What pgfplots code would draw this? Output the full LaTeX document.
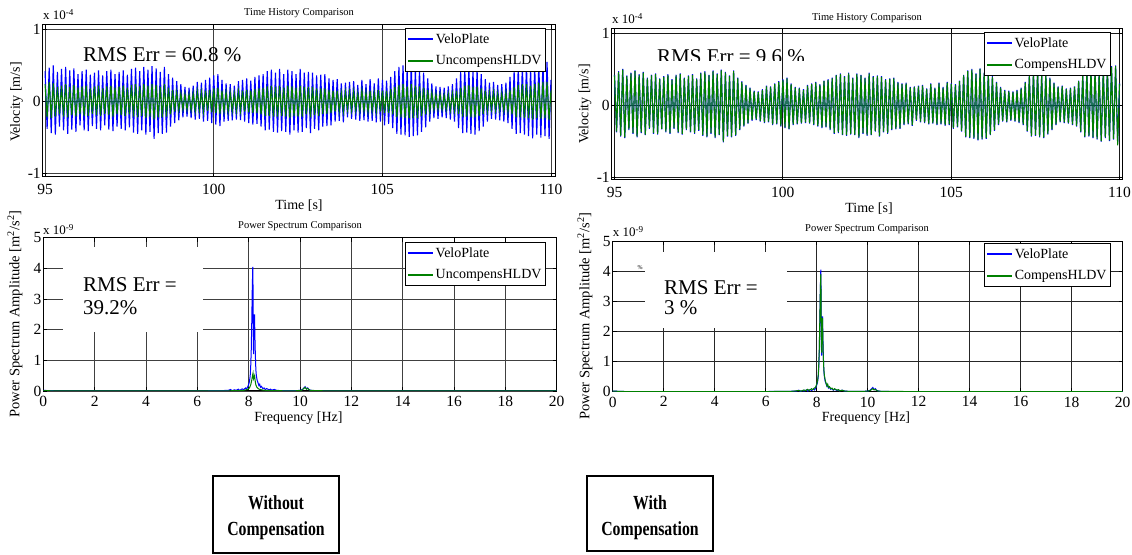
\documentclass[border=0pt]{standalone}
\usepackage{fontspec}
\setmainfont{Liberation Serif}
\usepackage{graphicx}
\usepackage{pgfplots}
\usepackage{pgfplotstable}
\pgfplotsset{compat=1.18}

\definecolor{mblue}{rgb}{0,0,1}
\definecolor{mgreen}{rgb}{0,0.5,0}

% velocity peaks/troughs, units of 1e-4 m/s
% v = VeloPlate, u = UncompensHLDV, c = CompensHLDV
\pgfplotstableread{
t v u c
95.000 0.42 0.24 0.41
95.061 -0.38 -0.22 -0.37
95.122 0.47 0.27 0.46
95.183 -0.44 -0.23 -0.43
95.244 0.50 0.25 0.49
95.305 -0.46 -0.21 -0.45
95.366 0.41 0.20 0.40
95.427 -0.35 -0.18 -0.34
95.488 0.45 0.22 0.44
95.549 -0.40 -0.21 -0.39
95.610 0.48 0.24 0.47
95.671 -0.45 -0.22 -0.44
95.732 0.43 0.20 0.42
95.793 -0.39 -0.19 -0.38
95.854 0.46 0.23 0.45
95.915 -0.42 -0.21 -0.41
95.976 0.38 0.19 0.37
96.037 -0.33 -0.17 -0.32
96.098 0.42 0.21 0.41
96.159 -0.40 -0.20 -0.39
96.220 0.44 0.22 0.43
96.281 -0.41 -0.20 -0.40
96.342 0.37 0.18 0.36
96.403 -0.34 -0.17 -0.33
96.464 0.40 0.21 0.39
96.525 -0.38 -0.19 -0.37
96.586 0.43 0.22 0.42
96.647 -0.40 -0.20 -0.39
96.708 0.36 0.18 0.35
96.769 -0.33 -0.17 -0.32
96.830 0.42 0.21 0.41
96.891 -0.39 -0.19 -0.38
96.952 0.44 0.22 0.43
97.013 -0.41 -0.21 -0.40
97.074 0.38 0.19 0.37
97.135 -0.35 -0.18 -0.34
97.196 0.41 0.21 0.40
97.257 -0.38 -0.19 -0.37
97.318 0.43 0.22 0.42
97.379 -0.40 -0.20 -0.39
97.440 0.37 0.19 0.36
97.501 -0.36 -0.18 -0.35
97.562 0.45 0.23 0.44
97.623 -0.43 -0.21 -0.42
97.684 0.47 0.24 0.46
97.745 -0.45 -0.22 -0.44
97.806 0.42 0.21 0.41
97.867 -0.40 -0.20 -0.39
97.928 0.48 0.24 0.47
97.989 -0.46 -0.23 -0.45
98.050 0.44 0.22 0.43
98.111 -0.42 -0.21 -0.41
98.172 0.49 0.24 0.48
98.233 -0.52 -0.25 -0.51
98.294 0.46 0.23 0.45
98.355 -0.44 -0.22 -0.43
98.416 0.41 0.20 0.40
98.477 -0.45 -0.22 -0.44
98.538 0.48 0.24 0.47
98.599 -0.43 -0.21 -0.42
98.660 0.38 0.19 0.37
98.721 -0.35 -0.18 -0.34
98.782 0.33 0.16 0.32
98.843 -0.30 -0.14 -0.29
98.904 0.28 0.13 0.27
98.965 -0.26 -0.12 -0.25
99.026 0.24 0.11 0.23
99.087 -0.22 -0.11 -0.21
99.148 0.20 0.10 0.19
99.209 -0.21 -0.11 -0.20
99.270 0.19 0.10 0.18
99.331 -0.23 -0.12 -0.22
99.392 0.22 0.11 0.21
99.453 -0.25 -0.13 -0.24
99.514 0.27 0.14 0.26
99.575 -0.24 -0.12 -0.23
99.636 0.26 0.13 0.25
99.697 -0.28 -0.14 -0.27
99.758 0.30 0.15 0.29
99.819 -0.27 -0.13 -0.26
99.880 0.33 0.16 0.32
99.941 -0.30 -0.15 -0.29
100.002 0.36 0.18 0.35
100.063 -0.32 -0.16 -0.31
100.124 0.38 0.19 0.37
100.185 -0.34 -0.17 -0.33
100.246 0.30 0.15 0.29
100.307 -0.28 -0.14 -0.27
100.368 0.25 0.13 0.24
100.429 -0.27 -0.14 -0.26
100.490 0.24 0.12 0.23
100.551 -0.26 -0.13 -0.25
100.612 0.22 0.11 0.21
100.673 -0.25 -0.13 -0.24
100.734 0.28 0.14 0.27
100.795 -0.26 -0.13 -0.25
100.856 0.30 0.15 0.29
100.917 -0.28 -0.14 -0.27
100.978 0.32 0.16 0.31
101.039 -0.30 -0.15 -0.29
101.100 0.29 0.15 0.28
101.161 -0.32 -0.16 -0.31
101.222 0.34 0.17 0.33
101.283 -0.31 -0.16 -0.30
101.344 0.36 0.18 0.35
101.405 -0.35 -0.18 -0.34
101.466 0.38 0.19 0.37
101.527 -0.40 -0.20 -0.39
101.588 0.42 0.21 0.41
101.649 -0.39 -0.20 -0.38
101.710 0.44 0.22 0.43
101.771 -0.42 -0.21 -0.41
101.832 0.40 0.20 0.39
101.893 -0.43 -0.21 -0.42
101.954 0.45 0.22 0.44
102.015 -0.41 -0.20 -0.40
102.076 0.38 0.19 0.37
102.137 -0.42 -0.21 -0.41
102.198 0.44 0.22 0.43
102.259 -0.46 -0.23 -0.45
102.320 0.42 0.21 0.41
102.381 -0.40 -0.20 -0.39
102.442 0.38 0.19 0.37
102.503 -0.43 -0.21 -0.42
102.564 0.45 0.22 0.44
102.625 -0.42 -0.21 -0.41
102.686 0.40 0.20 0.39
102.747 -0.37 -0.18 -0.36
102.808 0.41 0.20 0.40
102.869 -0.44 -0.22 -0.43
102.930 0.40 0.20 0.39
102.991 -0.38 -0.19 -0.37
103.052 0.36 0.18 0.35
103.113 -0.40 -0.20 -0.39
103.174 0.37 0.18 0.36
103.235 -0.35 -0.17 -0.34
103.296 0.38 0.18 0.37
103.357 -0.34 -0.17 -0.33
103.418 0.32 0.16 0.31
103.479 -0.33 -0.16 -0.32
103.540 0.30 0.15 0.29
103.601 -0.28 -0.14 -0.27
103.662 0.31 0.15 0.30
103.723 -0.27 -0.13 -0.26
103.784 0.25 0.12 0.24
103.845 -0.29 -0.14 -0.28
103.906 0.26 0.13 0.25
103.967 -0.22 -0.11 -0.21
104.028 0.27 0.13 0.26
104.089 -0.24 -0.12 -0.23
104.150 0.28 0.14 0.27
104.211 -0.25 -0.12 -0.24
104.272 0.23 0.11 0.22
104.333 -0.27 -0.13 -0.26
104.394 0.30 0.15 0.29
104.455 -0.26 -0.13 -0.25
104.516 0.24 0.12 0.23
104.577 -0.28 -0.14 -0.27
104.638 0.31 0.15 0.30
104.699 -0.27 -0.13 -0.26
104.760 0.25 0.12 0.24
104.821 -0.29 -0.14 -0.28
104.882 0.32 0.16 0.31
104.943 -0.28 -0.14 -0.27
105.004 0.30 0.15 0.29
105.065 -0.33 -0.16 -0.32
105.126 0.29 0.15 0.28
105.187 -0.31 -0.16 -0.30
105.248 0.34 0.17 0.33
105.309 -0.37 -0.18 -0.36
105.370 0.42 0.20 0.41
105.431 -0.45 -0.22 -0.44
105.492 0.48 0.23 0.47
105.553 -0.46 -0.22 -0.45
105.614 0.50 0.24 0.49
105.675 -0.47 -0.23 -0.46
105.736 0.44 0.21 0.43
105.797 -0.49 -0.23 -0.48
105.858 0.51 0.24 0.50
105.919 -0.48 -0.23 -0.47
105.980 0.45 0.22 0.44
106.041 -0.47 -0.23 -0.46
106.102 0.44 0.21 0.43
106.163 -0.42 -0.20 -0.41
106.224 0.40 0.19 0.39
106.285 -0.36 -0.18 -0.35
106.346 0.32 0.16 0.31
106.407 -0.28 -0.14 -0.27
106.468 0.25 0.12 0.24
106.529 -0.23 -0.11 -0.22
106.590 0.21 0.10 0.20
106.651 -0.24 -0.11 -0.23
106.712 0.20 0.10 0.19
106.773 -0.22 -0.11 -0.21
106.834 0.19 0.09 0.18
106.895 -0.23 -0.11 -0.22
106.956 0.21 0.10 0.20
107.017 -0.25 -0.12 -0.24
107.078 0.24 0.11 0.23
107.139 -0.28 -0.13 -0.27
107.200 0.32 0.15 0.31
107.261 -0.37 -0.17 -0.36
107.322 0.41 0.19 0.40
107.383 -0.44 -0.21 -0.43
107.444 0.46 0.22 0.45
107.505 -0.43 -0.21 -0.42
107.566 0.47 0.23 0.46
107.627 -0.45 -0.22 -0.44
107.688 0.42 0.20 0.41
107.749 -0.46 -0.22 -0.45
107.810 0.44 0.21 0.43
107.871 -0.41 -0.20 -0.40
107.932 0.38 0.18 0.37
107.993 -0.35 -0.17 -0.34
108.054 0.31 0.15 0.30
108.115 -0.28 -0.13 -0.27
108.176 0.26 0.12 0.25
108.237 -0.24 -0.11 -0.23
108.298 0.27 0.13 0.26
108.359 -0.25 -0.12 -0.24
108.420 0.23 0.11 0.22
108.481 -0.26 -0.12 -0.25
108.542 0.24 0.11 0.23
108.603 -0.28 -0.13 -0.27
108.664 0.26 0.12 0.25
108.725 -0.30 -0.14 -0.29
108.786 0.34 0.16 0.33
108.847 -0.38 -0.18 -0.37
108.908 0.42 0.20 0.41
108.969 -0.45 -0.22 -0.44
109.030 0.47 0.23 0.46
109.091 -0.44 -0.22 -0.43
109.152 0.49 0.24 0.48
109.213 -0.46 -0.23 -0.45
109.274 0.50 0.24 0.49
109.335 -0.48 -0.23 -0.47
109.396 0.45 0.22 0.44
109.457 -0.51 -0.25 -0.50
109.518 0.49 0.24 0.48
109.579 -0.46 -0.23 -0.45
109.640 0.52 0.26 0.51
109.701 -0.50 -0.24 -0.49
109.762 0.54 0.27 0.53
109.823 -0.48 -0.23 -0.47
109.884 0.55 0.27 0.54
109.945 -0.52 -0.26 -0.56
110.000 0.30 0.15 0.29
}\timedata

\pgfplotsset{
  matlab/.style={
    scale only axis, anchor=south west,
    axis line style={black, line width=1pt},
    tick align=inside, major tick length=4pt,
    tick style={black, line width=0.8pt},
    grid=major, grid style={black!75, line width=0.9pt},
    ticklabel style={font=\fontsize{15.5}{17}\selectfont, inner sep=0pt},
    yticklabel style={xshift=-1.8pt},
    /pgf/number format/assume math mode=true,
    legend cell align=left,
    legend style={draw=black, line width=0.9pt, fill=white, anchor=north east,
      font=\fontsize{14}{15}\selectfont, inner xsep=2pt, inner ysep=3pt,
      row sep=7pt},
    legend image code/.code={\draw[#1, line width=1.5pt] (0pt,0pt) -- (25pt,0pt);},
  },
  timeax/.style={matlab, xtick={95,100,105,110}, ytick={-1,0,1},
    xticklabels={95,100,105,110}, yticklabels={-1,0,1},
    xticklabel style={yshift=-6.8pt}},
  specax/.style={matlab, xmin=0, xmax=20, ymin=0, ymax=5,
    xtick={0,2,...,20}, ytick={0,1,...,5},
    xticklabels={0,2,4,6,8,10,12,14,16,18,20}, yticklabels={0,1,2,3,4,5},
    xticklabel style={yshift=-4.8pt}},
}

\newcommand{\fsz}[1]{\fontsize{#1}{#1}\selectfont}

\begin{document}
\begin{tikzpicture}
\path[use as bounding box] (0,0) rectangle (1132pt,554pt);

% ---- time history, without compensation
\begin{axis}[timeax, at={(42.7pt,377pt)}, width=512.3pt, height=152pt,
  xmin=94.93, xmax=110.12, ymin=-1.047, ymax=1.06,
  legend style={at={(0.9824,0.98)}}]
\addplot[draw=mblue, line width=1.1pt] table[x=t, y=v] {\timedata};
\addlegendentry{VeloPlate}
\addplot[draw=mgreen, line width=1.1pt] table[x=t, y=u] {\timedata};
\addlegendentry{UncompensHLDV}
\end{axis}

% ---- time history, with compensation
\begin{axis}[timeax, at={(611.7pt,374pt)}, width=511pt, height=151pt,
  xmin=94.917, xmax=110.095, ymin=-1.042, ymax=1.056,
  grid style={black!90, line width=0.9pt},
  legend style={at={(0.977,0.98)}}]
\addplot[draw=mblue, line width=1.1pt] table[x=t, y=v] {\timedata};
\addlegendentry{VeloPlate}
\addplot[draw=mgreen, line width=1.1pt] table[x=t, y=c] {\timedata};
\addlegendentry{CompensHLDV}
\end{axis}

% ---- power spectrum, without compensation
\begin{axis}[specax, at={(43.3pt,163pt)}, width=513.4pt, height=153.3pt,
  legend style={at={(0.979,0.972)}}]
\addplot[draw=mblue, line width=1pt] coordinates {
(0,0.02)(0.5,0.005)(1,0.004)(2,0.003)(3,0.003)(4,0.004)(5,0.005)(6,0.006)
(6.8,0.01)(7.2,0.02)(7.3,0.05)(7.35,0.01)(7.45,0.04)(7.5,0.02)(7.6,0.06)
(7.65,0.02)(7.75,0.07)(7.8,0.04)(7.88,0.1)(7.92,0.06)(7.97,0.15)(8.0,0.22)
(8.03,0.3)(8.06,0.5)(8.08,0.8)(8.1,1.3)(8.12,2.2)(8.14,3.3)(8.16,4.05)
(8.17,3.4)(8.18,2.0)(8.19,1.2)(8.2,1.8)(8.21,2.5)(8.22,2.4)(8.23,2.5)
(8.24,1.9)(8.26,1.2)(8.28,0.7)(8.3,0.5)(8.33,0.35)(8.36,0.28)(8.4,0.18)
(8.43,0.22)(8.46,0.12)(8.5,0.15)(8.55,0.08)(8.6,0.1)(8.65,0.05)(8.7,0.08)
(8.8,0.04)(8.85,0.06)(8.9,0.03)(9.0,0.05)(9.1,0.02)(9.3,0.01)(9.8,0.01)
(10.0,0.02)(10.1,0.05)(10.15,0.1)(10.2,0.14)(10.25,0.07)(10.3,0.1)
(10.35,0.04)(10.5,0.01)(11,0.005)(12,0.004)(14,0.003)(16,0.003)(18,0.002)(20,0.002)
};
\addlegendentry{VeloPlate}
\addplot[draw=mgreen, line width=1pt] coordinates {
(0,0.01)(1,0.003)(2,0.002)(4,0.002)(6,0.003)(7,0.005)(7.5,0.01)(7.8,0.02)
(7.95,0.05)(8.03,0.1)(8.08,0.2)(8.12,0.35)(8.15,0.5)(8.17,0.58)(8.19,0.4)
(8.21,0.45)(8.23,0.5)(8.25,0.35)(8.28,0.2)(8.32,0.12)(8.38,0.07)(8.45,0.05)
(8.55,0.03)(8.7,0.02)(9,0.01)(9.8,0.005)(10.05,0.02)(10.15,0.08)(10.2,0.12)
(10.25,0.06)(10.3,0.08)(10.4,0.02)(11,0.005)(14,0.002)(20,0.002)
};
\addlegendentry{UncompensHLDV}
\end{axis}

% ---- power spectrum, with compensation
\begin{axis}[specax, at={(612.7pt,162.3pt)}, width=510pt, height=150.7pt,
  grid style={black!85, line width=0.9pt},
  legend style={at={(0.977,0.987)}}]
\addplot[draw=mblue, line width=1pt] coordinates {
(0,0.02)(0.5,0.005)(1,0.004)(2,0.003)(3,0.003)(4,0.004)(5,0.005)(6,0.006)
(6.8,0.01)(7.2,0.02)(7.3,0.05)(7.35,0.01)(7.45,0.04)(7.5,0.02)(7.6,0.06)
(7.65,0.02)(7.75,0.07)(7.8,0.04)(7.88,0.1)(7.92,0.06)(7.97,0.15)(8.0,0.22)
(8.03,0.3)(8.06,0.5)(8.08,0.8)(8.1,1.3)(8.12,2.2)(8.14,3.3)(8.16,4.05)
(8.17,3.4)(8.18,2.0)(8.19,1.2)(8.2,1.8)(8.21,2.5)(8.22,2.4)(8.23,2.5)
(8.24,1.9)(8.26,1.2)(8.28,0.7)(8.3,0.5)(8.33,0.35)(8.36,0.28)(8.4,0.18)
(8.43,0.22)(8.46,0.12)(8.5,0.15)(8.55,0.08)(8.6,0.1)(8.65,0.05)(8.7,0.08)
(8.8,0.04)(8.85,0.06)(8.9,0.03)(9.0,0.05)(9.1,0.02)(9.3,0.01)(9.8,0.01)
(10.0,0.02)(10.1,0.05)(10.15,0.1)(10.2,0.14)(10.25,0.07)(10.3,0.1)
(10.35,0.04)(10.5,0.01)(11,0.005)(12,0.004)(14,0.003)(16,0.003)(18,0.002)(20,0.002)
};
\addlegendentry{VeloPlate}
\addplot[draw=mgreen, line width=1pt] coordinates {
(0,0.02)(0.5,0.005)(1,0.004)(2,0.003)(4,0.004)(6,0.005)(7,0.01)(7.3,0.04)
(7.4,0.02)(7.5,0.06)(7.55,0.03)(7.65,0.08)(7.7,0.04)(7.8,0.1)(7.85,0.06)
(7.9,0.12)(7.95,0.14)(8.0,0.25)(8.03,0.35)(8.06,0.55)(8.08,0.9)(8.1,1.4)
(8.12,2.3)(8.14,3.3)(8.16,3.9)(8.17,3.3)(8.18,2.1)(8.19,1.3)(8.2,1.9)
(8.21,2.45)(8.22,2.3)(8.23,2.45)(8.24,1.8)(8.26,1.1)(8.28,0.75)(8.3,0.55)
(8.33,0.4)(8.36,0.3)(8.4,0.2)(8.43,0.25)(8.46,0.14)(8.5,0.17)(8.55,0.1)
(8.6,0.12)(8.65,0.06)(8.7,0.1)(8.8,0.05)(8.85,0.07)(8.9,0.03)(9.0,0.05)
(9.1,0.02)(9.3,0.01)(9.8,0.01)(10.0,0.02)(10.1,0.04)(10.2,0.1)(10.25,0.06)
(10.3,0.07)(10.4,0.02)(10.6,0.01)(12,0.004)(16,0.003)(20,0.002)
};
\addlegendentry{CompensHLDV}
\end{axis}

% ---- titles, labels, exponents
\node[font=\fsz{10.5}, anchor=base] at (299pt,538pt) {Time History Comparison};
\node[font=\fsz{10.5}, anchor=base] at (867pt,533.5pt) {Time History Comparison};
\node[font=\fsz{10.5}, anchor=base] at (300pt,325pt) {Power Spectrum Comparison};
\node[font=\fsz{10.5}, anchor=base] at (867pt,322.5pt) {Power Spectrum Comparison};

\node[font=\fsz{14}, anchor=base] at (299pt,344pt) {Time [s]};
\node[font=\fsz{14}, anchor=base] at (869pt,341pt) {Time [s]};
\node[font=\fsz{14}, anchor=base] at (298.5pt,132pt) {Frequency [Hz]};
\node[font=\fsz{14}, anchor=base] at (866pt,132pt) {Frequency [Hz]};

\node[font=\fsz{14}, rotate=90] at (16.5pt,452pt) {Velocity [m/s]};
\node[font=\fsz{14}, rotate=90] at (585pt,450pt) {Velocity [m/s]};
\node[font=\fsz{14.5}, rotate=90] at (15pt,240pt) {Power Spectrum Amplitude [m\textsuperscript{2}/s\textsuperscript{2}]};
\node[font=\fsz{14.5}, rotate=90] at (585pt,238pt) {Power Spectrum Amplitude [m\textsuperscript{2}/s\textsuperscript{2}]};

\node[font=\fsz{13}, anchor=base west, inner sep=0pt] at (43pt,534pt) {x 10\textsuperscript{-4}};
\node[font=\fsz{13}, anchor=base west, inner sep=0pt] at (612pt,530pt) {x 10\textsuperscript{-4}};
\node[font=\fsz{13}, anchor=base west, inner sep=0pt] at (43pt,319pt) {x 10\textsuperscript{-9}};
\node[font=\fsz{13}, anchor=base west, inner sep=0pt] at (612.7pt,317pt) {x 10\textsuperscript{-9}};

% ---- RMS error annotations
\node[font=\fsz{21}, anchor=base west, inner sep=0pt] at (83pt,492pt) {RMS Err = 60.8 \%};
\begin{scope}
\clip (640pt,493.5pt) rectangle (830pt,520pt);
\node[font=\fsz{21}, anchor=base west, inner sep=0pt] at (657pt,490.5pt) {RMS Err = 9.6 \%};
\end{scope}

\fill[white] (63pt,222pt) rectangle (203pt,307pt);
\node[font=\fsz{21}, anchor=base west, inner sep=0pt] at (83pt,262pt) {RMS Err =};
\node[font=\fsz{21}, anchor=base west, inner sep=0pt] at (83pt,239pt) {39.2\%};

\fill[white] (645pt,226pt) rectangle (787pt,302pt);
\node[font=\fsz{6}, inner sep=0pt] at (640pt,286pt) {\%};
\node[font=\fsz{21}, anchor=base west, inner sep=0pt] at (664pt,259pt) {RMS Err =};
\node[font=\fsz{21}, anchor=base west, inner sep=0pt] at (664pt,239pt) {3 \%};

% ---- captions below
\draw[line width=1.3pt] (213pt,1pt) rectangle (339pt,78pt);
\node[font=\bfseries\fsz{20}, anchor=base] at (276pt,45pt) {\scalebox{0.79}[1]{Without}};
\node[font=\bfseries\fsz{20}, anchor=base] at (276pt,18pt) {\scalebox{0.79}[1]{Compensation}};
\draw[line width=1.3pt] (587pt,3pt) rectangle (713pt,78pt);
\node[font=\bfseries\fsz{20}, anchor=base] at (650pt,45pt) {\scalebox{0.79}[1]{With}};
\node[font=\bfseries\fsz{20}, anchor=base] at (650pt,18pt) {\scalebox{0.79}[1]{Compensation}};
\end{tikzpicture}
\end{document}
